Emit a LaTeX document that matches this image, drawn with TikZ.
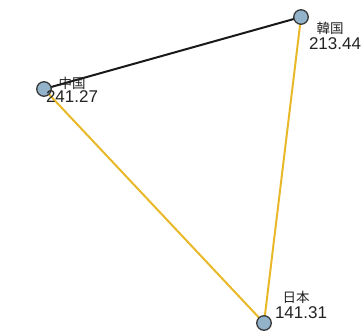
\documentclass[tikz,border=0pt]{standalone}
\usepackage{fontspec}
\setmainfont{Liberation Sans}
\newfontfamily\cjk{Noto Sans CJK JP}
\definecolor{edgeyellow}{HTML}{E8B828}
\definecolor{nodefill}{HTML}{93B3CA}
\definecolor{nodeline}{HTML}{3A3A3A}
\definecolor{txt}{HTML}{222222}
\begin{document}
\begin{tikzpicture}[x=1pt,y=-1pt,
  vert/.style={circle,draw=nodeline,fill=nodefill,line width=1.3pt,minimum size=14.5pt,inner sep=0pt},
  namelab/.style={text=txt,font=\cjk\fontsize{13.5}{14}\selectfont,inner sep=0pt},
  numlab/.style={text=txt,font=\fontsize{17}{17}\selectfont,inner sep=0pt},
  yedge/.style={draw=edgeyellow,line width=2pt},
  kedge/.style={draw=black!90,line width=2pt}]
\useasboundingbox (0,0) rectangle (363,334);
\coordinate (cn) at (44,89);
\coordinate (kr) at (301,17);
\coordinate (jp) at (264,323);
\draw[kedge] (cn) -- (kr);
\draw[yedge] (cn) -- (jp);
\draw[yedge] (kr) -- (jp);
\node[vert] (cnv) at (cn) {};
\node[vert] (krv) at (kr) {};
\node[vert] (jpv) at (jp) {};
\node[namelab] (cnn) at (72,83) {中国};
\node[numlab] (cnl) at (72,97) {241.27};
\node[namelab] (krn) at (330,28) {韓国};
\node[numlab] (krl) at (335,44) {213.44};
\node[namelab] (jpn) at (296,297) {日本};
\node[numlab] (jpl) at (301,313) {141.31};
\end{tikzpicture}
\end{document}
